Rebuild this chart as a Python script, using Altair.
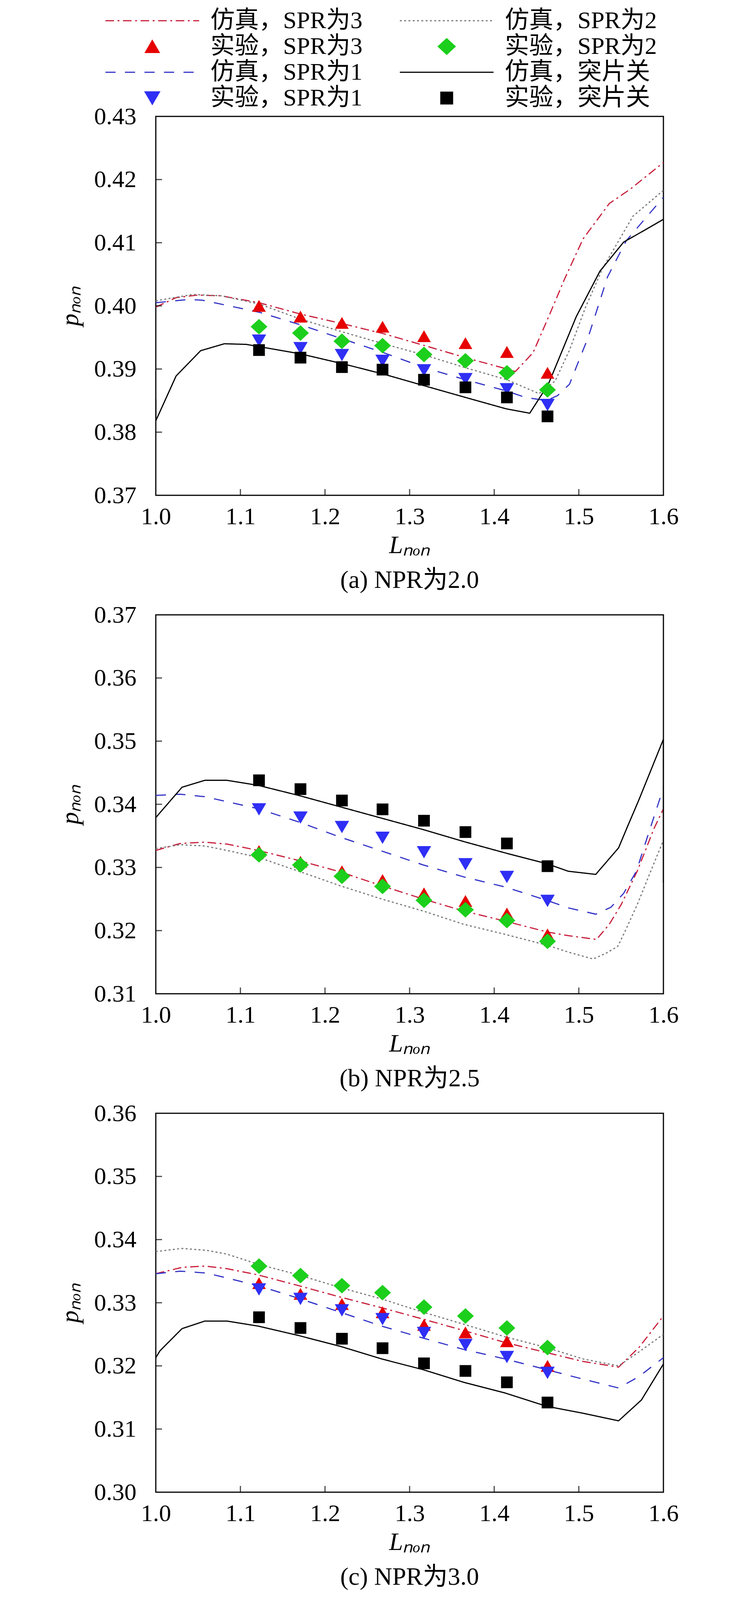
import altair as alt
import pandas as pd

# ---------------- data ----------------
# legend entries in column-major order (left column first, then right column)
SERIES = ["仿真，SPR为3", "实验，SPR为3", "仿真，SPR为1", "实验，SPR为1",
          "仿真，SPR为2", "实验，SPR为2", "仿真，突片关", "实验，突片关"]

EXP_X = [1.122, 1.171, 1.220, 1.268, 1.317, 1.366, 1.415, 1.463]
X_TICKS = [1.0, 1.1, 1.2, 1.3, 1.4, 1.5, 1.6]

# (a) NPR 2.0
A_EXP_SPR3 = [0.4000, 0.3983, 0.3973, 0.3967, 0.3952, 0.3941, 0.3927, 0.3894]
A_EXP_SPR2 = [0.3967, 0.3957, 0.3944, 0.3937, 0.3923, 0.3913, 0.3894, 0.3867]
A_EXP_SPR1 = [0.3945, 0.3933, 0.3922, 0.3913, 0.3898, 0.3884, 0.3868, 0.3843]
A_EXP_OFF = [0.3930, 0.3918, 0.3903, 0.3899, 0.3883, 0.3871, 0.3855, 0.3825]
A_SIM_SPR3_X = [1.0, 1.024, 1.049, 1.077, 1.122, 1.171, 1.22, 1.269, 1.318, 1.366, 1.415, 1.425, 1.446, 1.466, 1.483, 1.505, 1.536, 1.561, 1.6]
A_SIM_SPR3_Y = [0.3998, 0.4013, 0.4017, 0.4016, 0.4005, 0.3987, 0.3972, 0.3956, 0.3937, 0.3918, 0.3900, 0.3896, 0.3926, 0.3988, 0.4042, 0.4106, 0.4162, 0.4185, 0.4227]
A_SIM_SPR2_X = [1.0, 1.043, 1.077, 1.122, 1.171, 1.22, 1.269, 1.318, 1.366, 1.415, 1.453, 1.472, 1.489, 1.508, 1.528, 1.564, 1.6]
A_SIM_SPR2_Y = [0.4008, 0.4018, 0.4016, 0.4003, 0.3979, 0.3959, 0.3940, 0.3922, 0.3902, 0.3883, 0.3861, 0.3881, 0.3930, 0.3998, 0.4059, 0.4142, 0.4183]
A_SIM_SPR1_X = [1.0, 1.038, 1.055, 1.122, 1.171, 1.22, 1.269, 1.318, 1.366, 1.415, 1.437, 1.462, 1.475, 1.489, 1.511, 1.534, 1.556, 1.6]
A_SIM_SPR1_Y = [0.4005, 0.4010, 0.4009, 0.3990, 0.3970, 0.3948, 0.3926, 0.3902, 0.3883, 0.3865, 0.3855, 0.3850, 0.3858, 0.3876, 0.3950, 0.4046, 0.4103, 0.4172]
A_SIM_OFF_X = [1.0, 1.0, 1.024, 1.053, 1.081, 1.107, 1.171, 1.222, 1.269, 1.316, 1.366, 1.414, 1.442, 1.464, 1.497, 1.525, 1.553, 1.578, 1.6]
A_SIM_OFF_Y = [0.3852, 0.3818, 0.3889, 0.3929, 0.3940, 0.3939, 0.3924, 0.3908, 0.3892, 0.3874, 0.3855, 0.3837, 0.3830, 0.3876, 0.3983, 0.4055, 0.4101, 0.4120, 0.4137]
A_Y_TICKS = [0.37, 0.38, 0.39, 0.40, 0.41, 0.42, 0.43]

# (b) NPR 2.5
B_EXP_SPR3 = [0.3326, 0.3309, 0.3294, 0.3280, 0.3259, 0.3247, 0.3227, 0.3194]
B_EXP_SPR2 = [0.3320, 0.3304, 0.3286, 0.3270, 0.3248, 0.3233, 0.3216, 0.3183]
B_EXP_SPR1 = [0.3392, 0.3379, 0.3364, 0.3347, 0.3324, 0.3305, 0.3285, 0.3247]
B_EXP_OFF = [0.3438, 0.3424, 0.3406, 0.3392, 0.3374, 0.3356, 0.3338, 0.3302]
B_SIM_SPR3_X = [1.0, 1.029, 1.058, 1.084, 1.121, 1.169, 1.218, 1.267, 1.316, 1.364, 1.413, 1.462, 1.4875, 1.521, 1.536, 1.550, 1.569, 1.589, 1.6]
B_SIM_SPR3_Y = [0.3327, 0.3338, 0.3340, 0.3337, 0.3327, 0.3311, 0.3293, 0.3271, 0.3250, 0.3231, 0.3215, 0.3198, 0.3192, 0.3186, 0.3210, 0.3241, 0.3294, 0.3362, 0.3393]
B_SIM_SPR2_X = [1.0, 1.029, 1.058, 1.084, 1.121, 1.169, 1.218, 1.267, 1.316, 1.364, 1.413, 1.462, 1.4875, 1.517, 1.532, 1.546, 1.554, 1.569, 1.585, 1.6]
B_SIM_SPR2_Y = [0.3330, 0.3336, 0.3334, 0.3327, 0.3316, 0.3294, 0.3271, 0.3250, 0.3231, 0.3210, 0.3194, 0.3177, 0.3166, 0.3155, 0.3164, 0.3175, 0.3197, 0.3241, 0.3294, 0.3343]
B_SIM_SPR1_X = [1.0, 1.029, 1.058, 1.121, 1.169, 1.218, 1.267, 1.316, 1.364, 1.413, 1.462, 1.4875, 1.520, 1.538, 1.553, 1.568, 1.581, 1.6]
B_SIM_SPR1_Y = [0.3414, 0.3416, 0.3412, 0.3393, 0.3372, 0.3348, 0.3326, 0.3304, 0.3285, 0.3269, 0.3248, 0.3236, 0.3226, 0.3237, 0.3259, 0.3294, 0.3348, 0.3426]
B_SIM_OFF_X = [1.0, 1.031, 1.058, 1.084, 1.121, 1.169, 1.218, 1.267, 1.316, 1.364, 1.413, 1.462, 1.4875, 1.520, 1.547, 1.557, 1.571, 1.6, 1.6]
B_SIM_OFF_Y = [0.3379, 0.3427, 0.3438, 0.3438, 0.3430, 0.3414, 0.3396, 0.3378, 0.3360, 0.3341, 0.3323, 0.3306, 0.3294, 0.3289, 0.3331, 0.3363, 0.3407, 0.3503, 0.3276]
B_Y_TICKS = [0.31, 0.32, 0.33, 0.34, 0.35, 0.36, 0.37]

# (c) NPR 3.0
C_EXP_SPR3 = [0.3331, 0.3314, 0.3298, 0.3285, 0.3265, 0.3253, 0.3239, 0.3200]
C_EXP_SPR2 = [0.3358, 0.3343, 0.3327, 0.3316, 0.3293, 0.3279, 0.3260, 0.3229]
C_EXP_SPR1 = [0.3321, 0.3306, 0.3288, 0.3274, 0.3252, 0.3233, 0.3214, 0.3189]
C_EXP_OFF = [0.3277, 0.3260, 0.3243, 0.3228, 0.3204, 0.3192, 0.3174, 0.3142]
C_SIM_SPR3_X = [1.0, 1.031, 1.058, 1.084, 1.121, 1.169, 1.218, 1.267, 1.316, 1.364, 1.413, 1.462, 1.505, 1.547, 1.571, 1.6]
C_SIM_SPR3_Y = [0.3346, 0.3356, 0.3358, 0.3354, 0.3344, 0.3327, 0.3309, 0.3292, 0.3274, 0.3256, 0.3237, 0.3221, 0.3207, 0.3198, 0.3229, 0.3279]
C_SIM_SPR2_X = [1.0, 1.031, 1.060, 1.084, 1.121, 1.169, 1.218, 1.267, 1.316, 1.364, 1.413, 1.462, 1.505, 1.547, 1.571, 1.6]
C_SIM_SPR2_Y = [0.3381, 0.3386, 0.3383, 0.3377, 0.3361, 0.3344, 0.3324, 0.3306, 0.3285, 0.3266, 0.3246, 0.3229, 0.3211, 0.3200, 0.3222, 0.3250]
C_SIM_SPR1_X = [1.0, 1.029, 1.060, 1.121, 1.169, 1.218, 1.267, 1.316, 1.364, 1.413, 1.462, 1.505, 1.547, 1.571, 1.6]
C_SIM_SPR1_Y = [0.3346, 0.3350, 0.3347, 0.3327, 0.3307, 0.3285, 0.3263, 0.3244, 0.3226, 0.3211, 0.3194, 0.3179, 0.3165, 0.3183, 0.3213]
C_SIM_OFF_X = [1.0, 1.005, 1.031, 1.058, 1.084, 1.121, 1.169, 1.218, 1.267, 1.316, 1.364, 1.413, 1.462, 1.505, 1.547, 1.574, 1.6]
C_SIM_OFF_Y = [0.3213, 0.3224, 0.3259, 0.3271, 0.3271, 0.3263, 0.3248, 0.3231, 0.3211, 0.3194, 0.3174, 0.3157, 0.3136, 0.3125, 0.3113, 0.3146, 0.3203]
C_Y_TICKS = [0.30, 0.31, 0.32, 0.33, 0.34, 0.35, 0.36]

CAPTIONS = {"a": "(a) NPR为2.0", "b": "(b) NPR为2.5", "c": "(c) NPR为3.0"}

# ---------------- styling ----------------
FONT = "Liberation Serif, Noto Sans CJK SC"
LINE = "M-6.86,0H6.86"
TRI_UP = "M0,-0.866L1,0.866L-1,0.866Z"
TRI_DN = "M0,0.9L1.05,-0.9L-1.05,-0.9Z"
DIAM = "M0,-1.14L1.23,0L0,1.14L-1.23,0Z"
SQR = "M-0.857,-0.857H0.857V0.857H-0.857Z"
STYLE = {  # colour, legend/marker shape, dash
    "仿真，SPR为3": ("#c8203c", LINE, [22, 9, 5, 9]),
    "实验，SPR为3": ("#e60000", TRI_UP, [1, 0]),
    "仿真，SPR为1": ("#3434c8", LINE, [26, 24]),
    "实验，SPR为1": ("#2f2ff5", TRI_DN, [1, 0]),
    "仿真，SPR为2": ("#7a7a7a", LINE, [5, 6]),
    "实验，SPR为2": ("#1ccf1c", DIAM, [1, 0]),
    "仿真，突片关": ("#000000", LINE, [1, 0]),
    "实验，突片关": ("#000000", SQR, [1, 0]),
}
COLORS = [STYLE[s][0] for s in SERIES]
SHAPES = [STYLE[s][1] for s in SERIES]
DASHES = [STYLE[s][2] for s in SERIES]
W, H = 1300, 970

# ---------------- tables ----------------
S3, E3, S1, E1, S2, E2, S0, E0 = SERIES
sims = {
    "a": [(S3, A_SIM_SPR3_X, A_SIM_SPR3_Y), (S2, A_SIM_SPR2_X, A_SIM_SPR2_Y),
          (S1, A_SIM_SPR1_X, A_SIM_SPR1_Y), (S0, A_SIM_OFF_X, A_SIM_OFF_Y)],
    "b": [(S3, B_SIM_SPR3_X, B_SIM_SPR3_Y), (S2, B_SIM_SPR2_X, B_SIM_SPR2_Y),
          (S1, B_SIM_SPR1_X, B_SIM_SPR1_Y), (S0, B_SIM_OFF_X, B_SIM_OFF_Y)],
    "c": [(S3, C_SIM_SPR3_X, C_SIM_SPR3_Y), (S2, C_SIM_SPR2_X, C_SIM_SPR2_Y),
          (S1, C_SIM_SPR1_X, C_SIM_SPR1_Y), (S0, C_SIM_OFF_X, C_SIM_OFF_Y)],
}
exps = {
    "a": [(E3, A_EXP_SPR3), (E2, A_EXP_SPR2), (E1, A_EXP_SPR1), (E0, A_EXP_OFF)],
    "b": [(E3, B_EXP_SPR3), (E2, B_EXP_SPR2), (E1, B_EXP_SPR1), (E0, B_EXP_OFF)],
    "c": [(E3, C_EXP_SPR3), (E2, C_EXP_SPR2), (E1, C_EXP_SPR1), (E0, C_EXP_OFF)],
}
yticks = {"a": A_Y_TICKS, "b": B_Y_TICKS, "c": C_Y_TICKS}

sim_rows, exp_rows, yt_rows = [], [], []
for p, lst in sims.items():
    for name, xs, ys in lst:
        for i, (xv, yv) in enumerate(zip(xs, ys)):
            sim_rows.append({"panel": p, "series": name, "x": xv, "y": yv, "i": i})
for p, lst in exps.items():
    for name, ys in lst:
        for xv, yv in zip(EXP_X, ys):
            exp_rows.append({"panel": p, "series": name, "x": xv, "y": yv})
for p, vals in yticks.items():
    for v in vals[1:-1]:
        yt_rows.append({"panel": p, "y": v})
sim_df = pd.DataFrame(sim_rows)
exp_df = pd.DataFrame(exp_rows)
yt_df = pd.DataFrame(yt_rows)
xt_df = pd.DataFrame({"x": X_TICKS[1:-1]})


def panel(p):
    vals = yticks[p]
    x = alt.X("x:Q", scale=alt.Scale(domain=[1.0, 1.6], nice=False, zero=False),
              axis=alt.Axis(values=X_TICKS, format=".1f", title="Lₙₒₙ"))
    y = alt.Y("y:Q", scale=alt.Scale(domain=[vals[0], vals[-1]], nice=False, zero=False),
              axis=alt.Axis(values=vals, format=".2f", title="pₙₒₙ"))
    color = alt.Color("series:N", scale=alt.Scale(domain=SERIES, range=COLORS), title=None)
    lines = alt.Chart(sim_df[sim_df.panel == p]).mark_line(strokeWidth=3, clip=True).encode(
        x=x, y=y, color=color,
        strokeDash=alt.StrokeDash("series:N", scale=alt.Scale(domain=SERIES, range=DASHES), title=None),
        order="i:Q",
    )
    pts = alt.Chart(exp_df[exp_df.panel == p]).mark_point(filled=True, opacity=1, size=1225).encode(
        x=x, y=y, color=color,
        shape=alt.Shape("series:N", scale=alt.Scale(domain=SERIES, range=SHAPES), title=None),
    )
    ytk = alt.Chart(yt_df[yt_df.panel == p]).mark_tick(
        orient="horizontal", color="black", thickness=3, size=16).encode(y=y, x=alt.value(8))
    xtk = alt.Chart(xt_df).mark_tick(
        orient="vertical", color="black", thickness=3, size=16).encode(x=x, y=alt.value(H - 8))
    return alt.layer(lines, pts, ytk, xtk).properties(
        width=W, height=H,
        title=alt.TitleParams(CAPTIONS[p], orient="bottom", font=FONT, fontSize=64,
                              fontWeight="normal", color="black", offset=26),
    )


chart = alt.vconcat(panel("a"), panel("b"), panel("c"), spacing=21).properties(
    padding={"left": 139, "top": 14, "right": 10, "bottom": 0},
    background="white",
).configure_view(stroke="black", strokeWidth=3).configure_axis(
    labelFont=FONT, labelFontSize=62, labelColor="black", labelPadding=50,
    labelFlush=False, labelOverlap=False,
    ticks=False, domain=False, grid=False,
    titleFont=FONT, titleFontSize=64, titleFontStyle="italic", titleFontWeight="normal",
    titleColor="black", titlePadding=28,
).configure_axisX(labelPadding=24, titlePadding=11).configure_legend(
    orient="none", legendX=-40, legendY=-276, columns=2,
    labelFont=FONT, labelFontSize=62, labelColor="black", labelLimit=0,
    labelOffset=118, symbolSize=1225, symbolStrokeWidth=3,
    rowPadding=4, columnPadding=88, padding=0,
)

chart.save("out.html", embed_options={"renderer": "svg", "actions": False})
